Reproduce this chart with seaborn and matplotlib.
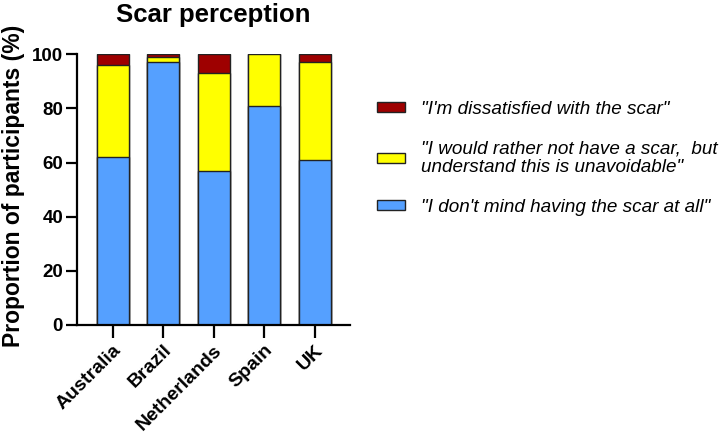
import matplotlib
matplotlib.use("Agg")
import matplotlib.pyplot as plt
import seaborn as sns
import pandas as pd
import numpy as np
from matplotlib.patches import Patch

countries = ["Australia", "Brazil", "Netherlands", "Spain", "UK"]
dont_mind = [62, 97, 57, 81, 61]
rather_not = [34, 2, 36, 19, 36]
dissatisfied = [4, 1, 7, 0, 3]

labels = ['"I\'m dissatisfied with the scar"',
          '"I would rather not have a scar,  but\nunderstand this is unavoidable"',
          '"I don\'t mind having the scar at all"']
colors = ["#9E0000", "#FFFF00", "#55A0FF"]

sns.set_theme(style="ticks")
plt.rcParams['font.family'] = ['Liberation Sans', 'DejaVu Sans']
plt.rcParams['text.color'] = 'black'
plt.rcParams['axes.labelcolor'] = 'black'
plt.rcParams['xtick.color'] = 'black'
plt.rcParams['ytick.color'] = 'black'

df = pd.DataFrame({"country": countries,
                   "blue": dont_mind,
                   "yellow": np.add(dont_mind, rather_not),
                   "red": np.add(np.add(dont_mind, rather_not), dissatisfied)})

fig = plt.figure(figsize=(7.21, 4.37), dpi=100)
ax = fig.add_axes([0.1068, 0.2563, 0.3786, 0.6194])

for col, c in zip(["red", "yellow", "blue"], colors):
    sns.barplot(data=df, x="country", y=col, color=c, width=0.63,
                edgecolor="#222222", linewidth=1.0, saturation=1, ax=ax)

ax.set_ylim(0, 100)
ax.set_xlim(-0.71, 4.7)
ax.set_yticks([0, 20, 40, 60, 80, 100])
ax.set_xlabel("")
ax.set_ylabel("Proportion of participants (%)", fontsize=16.5, fontweight="bold",
              labelpad=1, color="black")
ax.yaxis.set_label_coords(-0.19, 0.515)
ax.set_title("Scar perception", fontsize=18.5, fontweight="bold", pad=23, color="black")

for s in ["top", "right"]:
    ax.spines[s].set_visible(False)
for s in ["left", "bottom"]:
    ax.spines[s].set_linewidth(1.6)
    ax.spines[s].set_color("black")
ax.tick_params(axis="y", length=8, width=1.6, colors="black", labelsize=13.5, direction="out", pad=2)
ax.tick_params(axis="x", length=9, width=1.6, colors="black", labelsize=14, direction="out", pad=3)
for t in ax.get_yticklabels():
    t.set_fontweight("bold")
for t in ax.get_xticklabels():
    t.set_fontweight("bold")
    t.set_rotation(45)
    t.set_ha("right")
    t.set_rotation_mode("anchor")

handles = [Patch(facecolor=c, edgecolor="#222222", linewidth=1.0) for c in colors]
leg = fig.legend(handles, labels, loc="center left", bbox_to_anchor=(0.510, 0.638),
                 frameon=False, fontsize=13.6, handlelength=1.5, handleheight=0.42,
                 handletextpad=0.8, labelspacing=1.2, borderpad=0)
for t in leg.get_texts():
    t.set_fontstyle("italic")
    t.set_color("black")
    t.set_linespacing(1.15)

fig.savefig("out.png", dpi=100)
